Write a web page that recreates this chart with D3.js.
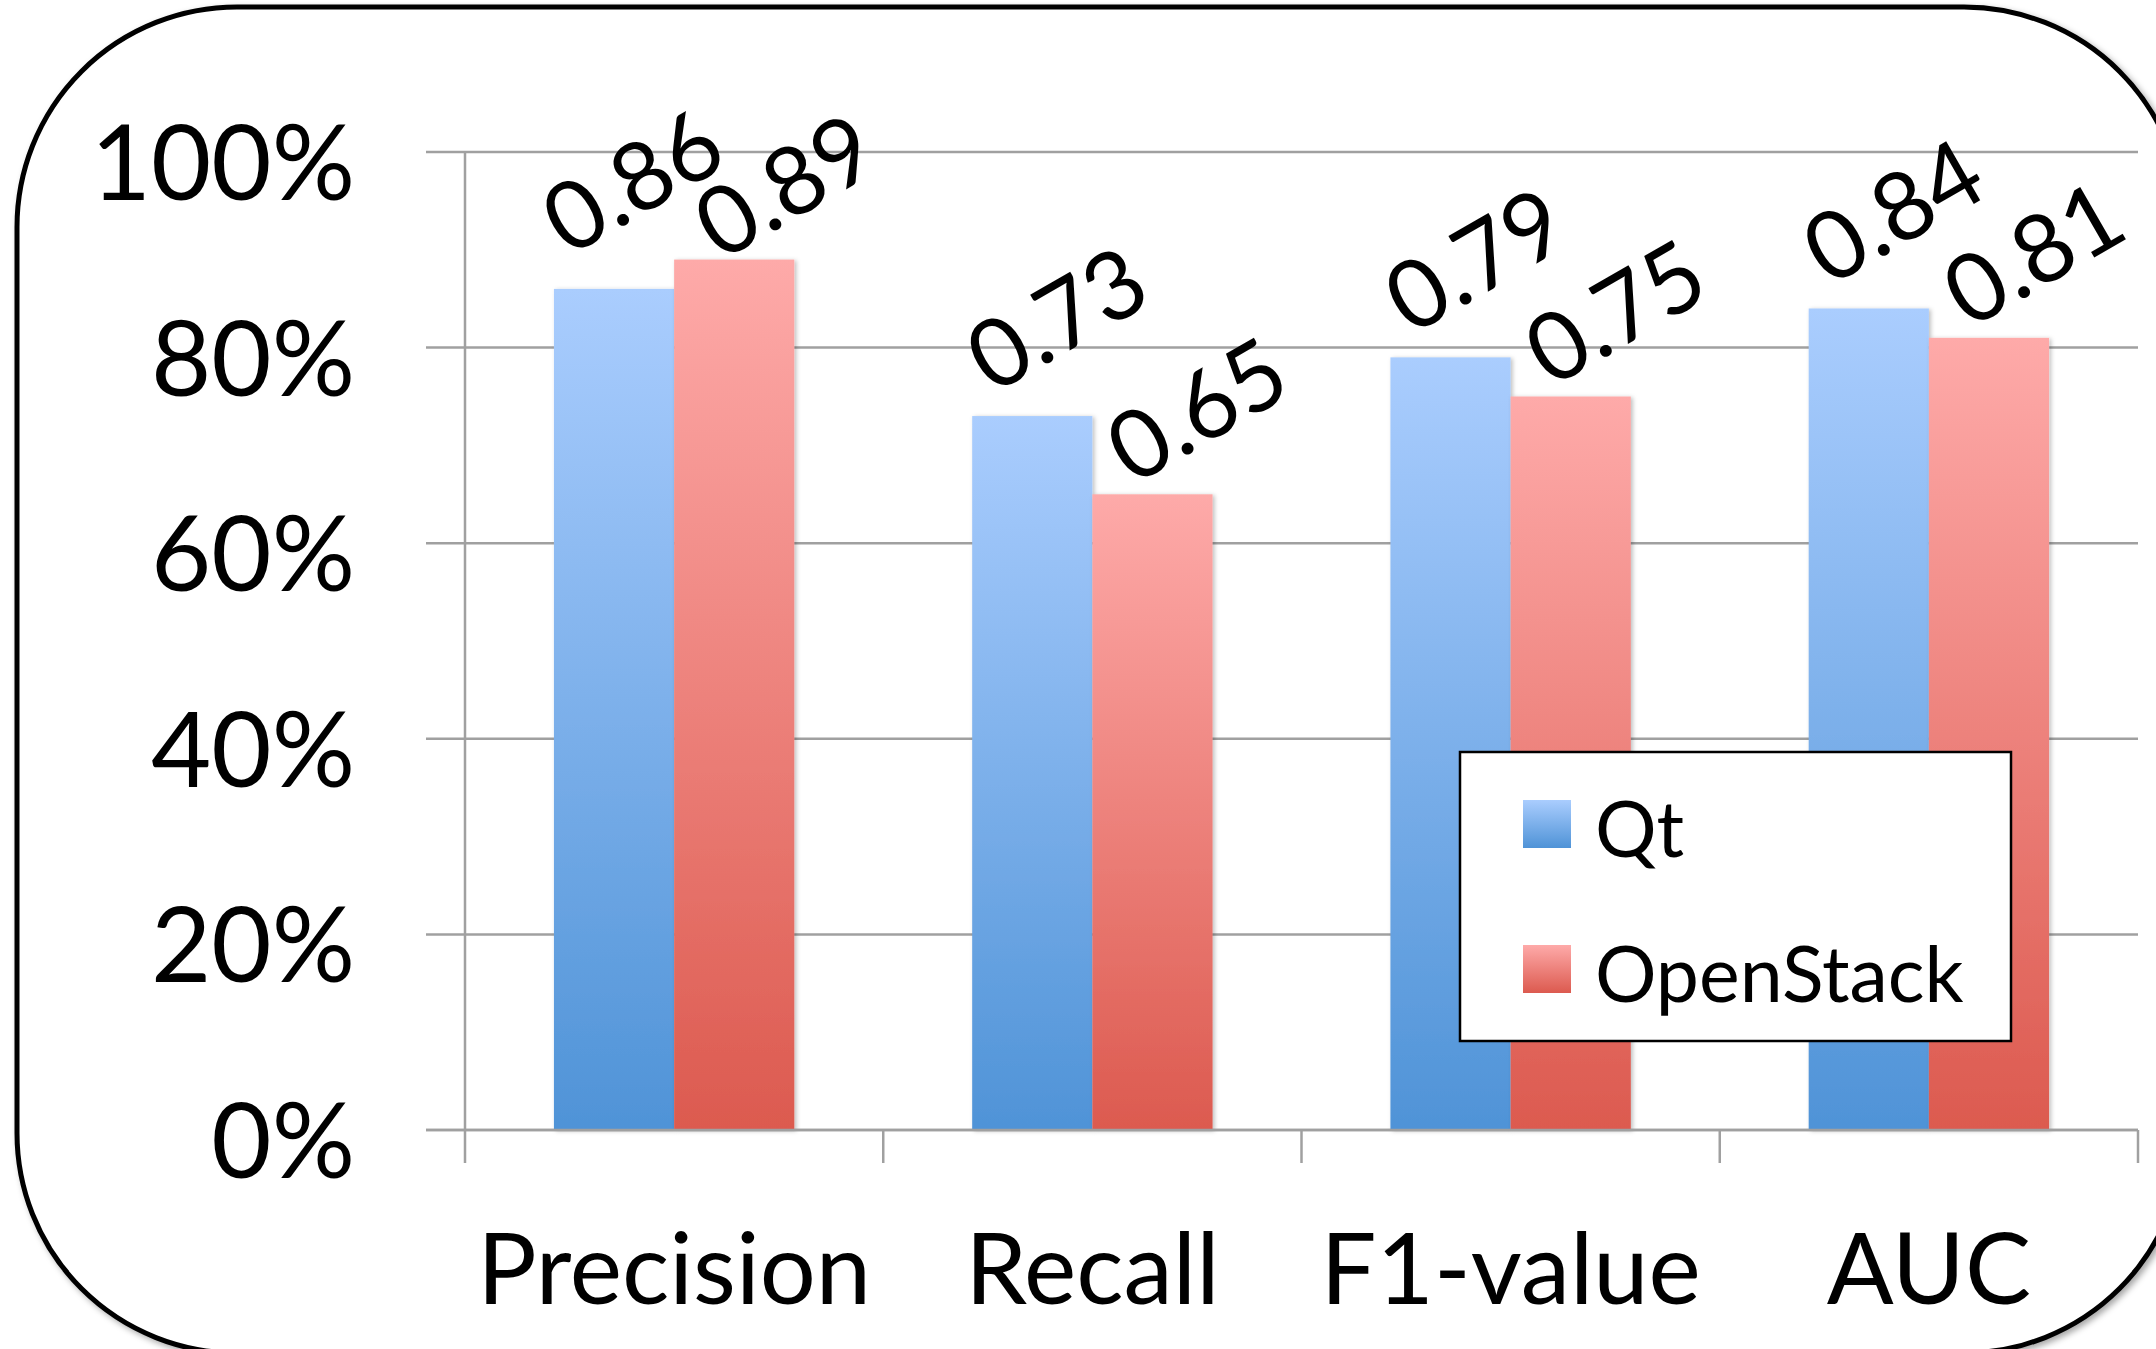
<!DOCTYPE html>
<html>
<head>
<meta charset="utf-8">
<script src="https://cdn.jsdelivr.net/npm/d3@7/dist/d3.min.js"></script>
<style>
  html, body { margin: 0; padding: 0; background: #fff; }
  svg { display: block; }
  text { font-family: Lato, "Open Sans", sans-serif; fill: #000; }
</style>
</head>
<body>
<svg id="chart" width="2156" height="1349"></svg>
<script>
// ---- data ----
const categories = ["Precision", "Recall", "F1-value", "AUC"];
const seriesNames = ["Qt", "OpenStack"];
const qtValues = [0.86, 0.73, 0.79, 0.84];
const openStackValues = [0.89, 0.65, 0.75, 0.81];
const yTickValues = [0, 0.2, 0.4, 0.6, 0.8, 1.0];

// ---- layout ----
const plotLeft = 465, plotRight = 2138, plotTop = 152, plotBottom = 1130;
const svg = d3.select("#chart");

const defs = svg.append("defs");
function grad(id, top, bottom) {
  const g = defs.append("linearGradient").attr("id", id)
    .attr("x1", 0).attr("y1", 0).attr("x2", 0).attr("y2", 1);
  g.append("stop").attr("offset", "0%").attr("stop-color", top);
  g.append("stop").attr("offset", "100%").attr("stop-color", bottom);
}
grad("gQt", "#aacdfe", "#4f93d7");
grad("gOS", "#feaaa9", "#dc5a4f");
const colors = { "Qt": "url(#gQt)", "OpenStack": "url(#gOS)" };

const fb = defs.append("filter").attr("id", "borderShadow")
  .attr("x", "-5%").attr("y", "-5%").attr("width", "110%").attr("height", "110%");
fb.append("feDropShadow").attr("dx", 3).attr("dy", 3).attr("stdDeviation", 3)
  .attr("flood-color", "#000").attr("flood-opacity", 0.35);
const fbar = defs.append("filter").attr("id", "barShadow")
  .attr("x", "-10%").attr("y", "-10%").attr("width", "130%").attr("height", "130%");
fbar.append("feDropShadow").attr("dx", 2).attr("dy", 1).attr("stdDeviation", 2)
  .attr("flood-color", "#000").attr("flood-opacity", 0.25);

// rounded frame
svg.append("rect")
  .attr("x", 17).attr("y", 7).attr("width", 2167).attr("height", 1346)
  .attr("rx", 220).attr("ry", 220)
  .attr("fill", "#fff").attr("stroke", "#000").attr("stroke-width", 5)
  .attr("filter", "url(#borderShadow)");

// scales
const x0 = d3.scaleBand().domain(categories).range([plotLeft, plotRight]).padding(0);
const x1 = d3.scaleBand().domain(seriesNames).range([0, x0.bandwidth()])
  .paddingInner(0).paddingOuter(0.74);
const y = d3.scaleLinear().domain([0, 1]).range([plotBottom, plotTop]);

// gridlines
const gridColor = "#a0a0a0";
svg.append("g").selectAll("line").data(yTickValues).join("line")
  .attr("x1", plotLeft - 39).attr("x2", plotRight)
  .attr("y1", d => y(d)).attr("y2", d => y(d))
  .attr("stroke", gridColor).attr("stroke-width", 2.5);

// y axis line
svg.append("line")
  .attr("x1", plotLeft).attr("x2", plotLeft)
  .attr("y1", y(1)).attr("y2", plotBottom + 33)
  .attr("stroke", gridColor).attr("stroke-width", 2.5);

// category boundary ticks
const boundaries = categories.map(c => x0(c)).concat([x0(categories[categories.length - 1]) + x0.bandwidth()]);
svg.append("g").selectAll("line").data(boundaries.slice(1)).join("line")
  .attr("x1", d => d).attr("x2", d => d)
  .attr("y1", plotBottom).attr("y2", plotBottom + 33)
  .attr("stroke", gridColor).attr("stroke-width", 2.5);

// y tick labels
const fmt = d3.format(".0%");
svg.append("g").selectAll("text").data(yTickValues).join("text")
  .attr("x", 355).attr("y", d => y(d) + 48)
  .attr("text-anchor", "end")
  .attr("font-size", 104)
  .text(d => fmt(d));

// bars
const rows = categories.map((c, i) => ({
  cat: c,
  vals: [{ s: "Qt", v: qtValues[i] }, { s: "OpenStack", v: openStackValues[i] }]
}));
const groups = svg.append("g").selectAll("g").data(rows).join("g")
  .attr("transform", d => `translate(${x0(d.cat)},0)`);
groups.selectAll("rect").data(d => d.vals).join("rect")
  .attr("x", d => x1(d.s)).attr("width", x1.bandwidth())
  .attr("y", d => y(d.v)).attr("height", d => y(0) - y(d.v))
  .attr("fill", d => colors[d.s])
  .attr("filter", "url(#barShadow)");

// zero line on top
svg.append("line")
  .attr("x1", plotLeft - 39).attr("x2", plotRight)
  .attr("y1", y(0)).attr("y2", y(0))
  .attr("stroke", gridColor).attr("stroke-width", 2.5);

// data labels (rotated -30deg), placed above each bar, with simple collision avoidance
const labelFont = 95;
const angle = 30 * Math.PI / 180;
const nx = Math.sin(angle), ny = Math.cos(angle); // normal to text direction
const labelShiftX = { "Qt": 23, "OpenStack": 43 };
const labelGap = { "Qt": 28, "OpenStack": 15 };
const minSep = 80;
rows.forEach(r => {
  r.vals.forEach(d => {
    d.cx = x1(d.s) + x1.bandwidth() / 2 + labelShiftX[d.s];
    d.cy = y(d.v) - labelGap[d.s] - 72;
  });
  const [a, b] = r.vals;
  const sep = (b.cx - a.cx) * nx + (b.cy - a.cy) * ny;
  if (sep < minSep) {
    const push = (minSep - sep) / 2;
    a.cx -= push * nx; a.cy -= push * ny;
    b.cx += push * nx; b.cy += push * ny;
  }
});
groups.selectAll("text.lbl").data(d => d.vals).join("text")
  .attr("class", "lbl")
  .attr("font-size", labelFont)
  .attr("text-anchor", "middle")
  .attr("dominant-baseline", "central")
  .attr("transform", d => `translate(${d.cx},${d.cy}) rotate(-30)`)
  .text(d => d.v.toFixed(2));

// category labels
svg.append("g").selectAll("text").data(categories).join("text")
  .attr("x", d => x0(d) + x0.bandwidth() / 2).attr("y", 1304)
  .attr("text-anchor", "middle")
  .attr("font-size", 99)
  .text(d => d);

// legend
const lg = svg.append("g");
lg.append("rect").attr("x", 1460).attr("y", 752).attr("width", 551).attr("height", 289)
  .attr("fill", "#fff").attr("stroke", "#000").attr("stroke-width", 2.5);
const li = lg.selectAll("g").data(seriesNames).join("g")
  .attr("transform", (d, i) => `translate(1523,${800 + i * 145})`);
li.append("rect").attr("width", 48).attr("height", 48).attr("fill", d => colors[d]);
li.append("text").attr("x", 72).attr("y", 57).attr("font-size", 77).text(d => d);
</script>
</body>
</html>
